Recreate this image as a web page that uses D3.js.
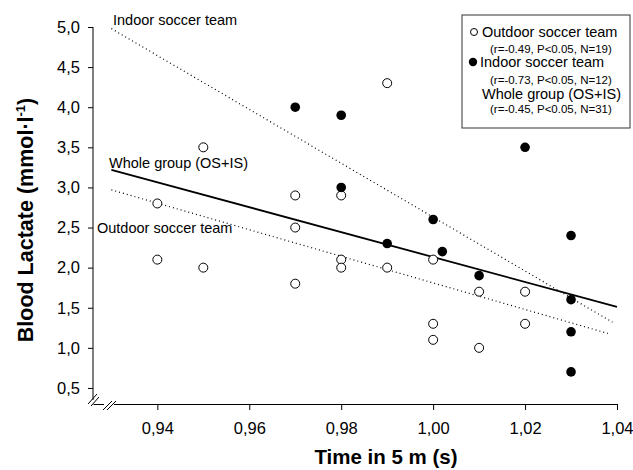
<!DOCTYPE html>
<html>
<head>
<meta charset="utf-8">
<script src="https://cdn.jsdelivr.net/npm/d3@7"></script>
<style>
  body { margin: 0; background: #fff; }
  text { font-family: "Liberation Sans", Arial, sans-serif; }
</style>
</head>
<body>
<script>
// data
var outdoorTime = [0.94, 0.94, 0.95, 0.95, 0.97, 0.97, 0.97, 0.98, 0.98, 0.98, 0.99, 0.99, 1.00, 1.00, 1.00, 1.01, 1.01, 1.02, 1.02];
var outdoorLactate = [2.8, 2.1, 3.5, 2.0, 2.9, 2.5, 1.8, 2.9, 2.1, 2.0, 4.3, 2.0, 2.1, 1.3, 1.1, 1.7, 1.0, 1.7, 1.3];

var indoorTime = [0.97, 0.98, 0.98, 0.99, 1.00, 1.002, 1.01, 1.02, 1.03, 1.03, 1.03, 1.03];
var indoorLactate = [4.0, 3.9, 3.0, 2.3, 2.6, 2.2, 1.9, 3.5, 2.4, 1.6, 1.2, 0.7];

// regression lines, [x0, y0, x1, y1]
var fitIndoor = [0.93, 4.98, 1.039, 1.32];
var fitOutdoor = [0.93, 2.97, 1.038, 1.18];
var fitWhole = [0.93, 3.22, 1.04, 1.51];

var xTicks = [0.94, 0.96, 0.98, 1.00, 1.02, 1.04];
var yTicks = [0.5, 1.0, 1.5, 2.0, 2.5, 3.0, 3.5, 4.0, 4.5, 5.0];

var legendLines = [
  "Outdoor soccer team", "(r=-0.49, P<0.05, N=19)",
  "Indoor soccer team", "(r=-0.73, P<0.05, N=12)",
  "Whole group (OS+IS)", "(r=-0.45, P<0.05, N=31)"
];

var svgContainer = d3.select("body").append("svg")
                     .attr("width", 633)
                     .attr("height", 470);

var x = d3.scaleLinear().domain([0.926, 1.04]).range([93, 617]);
var y = d3.scaleLinear().domain([0.3, 5.0]).range([404, 27]);

var comma = function(f) { return function(d) { return d3.format(f)(d).replace(".", ","); }; };

// axes
var xAxis = svgContainer.append("g")
    .attr("transform", "translate(0,404)")
    .call(d3.axisBottom(x).tickValues(xTicks).tickFormat(comma(".2f"))
          .tickSize(6).tickSizeOuter(0).tickPadding(12));
var yAxis = svgContainer.append("g")
    .attr("transform", "translate(93,0)")
    .call(d3.axisLeft(y).tickValues(yTicks).tickFormat(comma(".1f"))
          .tickSize(5).tickSizeOuter(0).tickPadding(8));

svgContainer.selectAll(".tick text").attr("font-size", 16.5).attr("fill", "#000")
    .style("font-family", "'Liberation Sans', Arial, sans-serif");
svgContainer.selectAll(".domain, .tick line").attr("stroke", "#000");
yAxis.select(".domain").attr("d", "M0,27V400");

// axis break marks
var breaks = [[88, 404, 97, 394], [91, 406, 99, 397], [103, 410, 112, 401], [107, 410, 116, 401]];
svgContainer.append("rect").attr("x", 104).attr("y", 402).attr("width", 10).attr("height", 4).attr("fill", "#fff");
svgContainer.selectAll(".brk").data(breaks).enter().append("line")
    .attr("x1", function(d) { return d[0]; }).attr("y1", function(d) { return d[1]; })
    .attr("x2", function(d) { return d[2]; }).attr("y2", function(d) { return d[3]; })
    .attr("stroke", "#000").attr("stroke-width", 1);

// regression lines
function fitLine(f, dash, w) {
  svgContainer.append("line")
    .attr("x1", x(f[0])).attr("y1", y(f[1]))
    .attr("x2", x(f[2])).attr("y2", y(f[3]))
    .attr("stroke", "#000").attr("stroke-width", w)
    .attr("stroke-dasharray", dash);
}
fitLine(fitIndoor, "1,3", 1.2);
fitLine(fitOutdoor, "1,3", 1.2);
fitLine(fitWhole, null, 1.8);

// points
svgContainer.selectAll(".out").data(outdoorTime).enter().append("circle")
    .attr("cx", function(d) { return x(d); })
    .attr("cy", function(d, i) { return y(outdoorLactate[i]); })
    .attr("r", 4.5).attr("fill", "#fff").attr("stroke", "#000").attr("stroke-width", 1);
svgContainer.selectAll(".in").data(indoorTime).enter().append("circle")
    .attr("cx", function(d) { return x(d); })
    .attr("cy", function(d, i) { return y(indoorLactate[i]); })
    .attr("r", 4.8).attr("fill", "#000");

// line labels
var lbl = [["Indoor soccer team", 113, 25], ["Whole group (OS+IS)", 109, 168], ["Outdoor soccer team", 97, 233]];
svgContainer.selectAll(".lbl").data(lbl).enter().append("text")
    .attr("x", function(d) { return d[1]; }).attr("y", function(d) { return d[2]; })
    .attr("font-size", 14.5).text(function(d) { return d[0]; });

// legend
var legend = svgContainer.append("g");
legend.append("rect").attr("x", 462).attr("y", 15).attr("width", 168).attr("height", 113)
    .attr("fill", "#fff").attr("stroke", "#333").attr("stroke-width", 1);
var legX = [482, 490, 480, 490, 482, 490];
var legY = [37, 53, 67, 84, 99, 113];
legend.selectAll("text").data(legendLines).enter().append("text")
    .attr("x", function(d, i) { return legX[i]; })
    .attr("y", function(d, i) { return legY[i]; })
    .attr("font-size", function(d, i) { return i % 2 ? 11.5 : 14.5; })
    .text(function(d) { return d; });
legend.append("circle").attr("cx", 474).attr("cy", 32).attr("r", 3.5)
    .attr("fill", "#fff").attr("stroke", "#000");
legend.append("circle").attr("cx", 473).attr("cy", 62).attr("r", 4.2).attr("fill", "#000");

// axis titles
svgContainer.append("text").attr("x", 386).attr("y", 464).attr("text-anchor", "middle")
    .attr("font-size", 20.5).attr("font-weight", "bold").text("Time in 5 m (s)");
var yt = svgContainer.append("text").attr("transform", "translate(33,220) rotate(-90)")
    .attr("text-anchor", "middle").attr("font-size", 21.5).attr("font-weight", "bold");
yt.append("tspan").text("Blood Lactate (mmol·l");
yt.append("tspan").attr("dy", -8).attr("font-size", 13).text("-1");
yt.append("tspan").attr("dy", 8).text(")");
</script>
</body>
</html>
